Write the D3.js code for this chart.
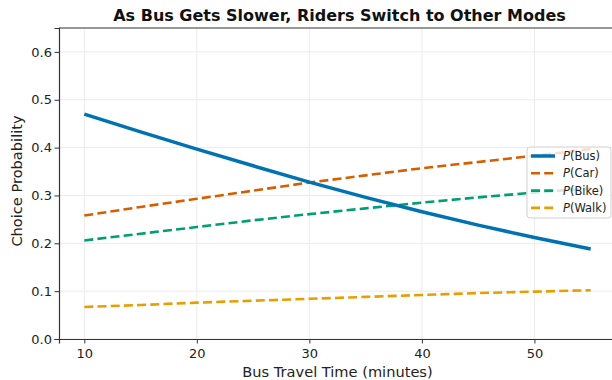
<!DOCTYPE html>
<html><head><meta charset="utf-8">
<script src="https://cdn.jsdelivr.net/npm/d3@7"></script>
<style>
body{margin:0;background:#fff;}
svg{display:block;font-family:"DejaVu Sans",sans-serif;}
</style></head>
<body>
<svg id="chart" width="612" height="380"></svg>
<script>
const busTime = [10, 15, 20, 25, 30, 35, 40, 45, 50, 55];
const pBus  = [0.470, 0.433, 0.397, 0.362, 0.328, 0.296, 0.266, 0.238, 0.212, 0.188];
const pCar  = [0.258, 0.276, 0.293, 0.310, 0.327, 0.342, 0.357, 0.370, 0.383, 0.397];
const pBike = [0.206, 0.220, 0.234, 0.248, 0.261, 0.273, 0.285, 0.296, 0.306, 0.315];
const pWalk = [0.067, 0.071, 0.076, 0.080, 0.084, 0.088, 0.092, 0.096, 0.099, 0.102];
const xTicks = [10, 20, 30, 40, 50];
const yTicks = [0.0, 0.1, 0.2, 0.3, 0.4, 0.5, 0.6];
const seriesNames = ["Bus", "Car", "Bike", "Walk"];
const seriesColors = ["#0072B2", "#D55E00", "#009E73", "#E69F00"];
const seriesValues = [pBus, pCar, pBike, pWalk];
const titleText = "As Bus Gets Slower, Riders Switch to Other Modes";
const xLabel = "Bus Travel Time (minutes)";
const yLabel = "Choice Probability";

const svg = d3.select("#chart");
const L = 59, R = 616, T = 28, B = 339;
const x = d3.scaleLinear().domain([7.75, 57.25]).range([L, R]);
const y = d3.scaleLinear().domain([0, 0.65]).range([B, T]);

// grid
const g = svg.append("g");
g.selectAll(".gx").data(xTicks).enter().append("line")
  .attr("x1", d => x(d)).attr("x2", d => x(d)).attr("y1", T).attr("y2", B)
  .attr("stroke", "#ebebeb").attr("stroke-width", 1);
g.selectAll(".gy").data(yTicks).enter().append("line")
  .attr("x1", L).attr("x2", R).attr("y1", d => y(d)).attr("y2", d => y(d))
  .attr("stroke", "#ebebeb").attr("stroke-width", 1);

// lines
const line = d3.line().x((d, i) => x(busTime[i])).y(d => y(d));
const order = [3, 2, 1, 0];
order.forEach(k => {
  svg.append("path").datum(seriesValues[k])
    .attr("d", line).attr("fill", "none")
    .attr("stroke", seriesColors[k])
    .attr("stroke-width", k === 0 ? 3.5 : 2.6)
    .attr("stroke-dasharray", k === 0 ? null : "9,4.2");
});

// axes
const xAxis = svg.append("g").attr("transform", `translate(0,${B})`)
  .call(d3.axisBottom(x).tickValues(xTicks).tickFormat(d3.format("d")).tickSizeOuter(0).tickSize(4.5));
const yAxis = svg.append("g").attr("transform", `translate(${L},0)`)
  .call(d3.axisLeft(y).tickValues(yTicks).tickFormat(d3.format(".1f")).tickSizeOuter(0).tickSize(4.5));
[xAxis, yAxis].forEach(a => {
  a.select(".domain").attr("stroke", "#333").attr("stroke-width", 1.2);
  a.selectAll(".tick line").attr("stroke", "#333").attr("stroke-width", 1);
  a.selectAll(".tick text").attr("fill", "#222").attr("font-size", 13)
    .attr("font-family", "DejaVu Sans");
});
xAxis.selectAll(".tick text").attr("dy", "0.95em").attr("y", 7);
yAxis.selectAll(".tick text").attr("x", -7);
// top spine
svg.append("line").attr("x1", L).attr("x2", R).attr("y1", T).attr("y2", T)
  .attr("stroke", "#333").attr("stroke-width", 1.2);

// title and labels
svg.append("text").attr("x", 339.5).attr("y", 20.5).attr("text-anchor", "middle")
  .attr("font-size", 16).attr("font-weight", "bold").attr("fill", "#111").text(titleText);
svg.append("text").attr("x", 337.5).attr("y", 376.5).attr("text-anchor", "middle")
  .attr("font-size", 14.6).attr("fill", "#222").text(xLabel);
svg.append("text").attr("transform", `translate(22,181) rotate(-90)`)
  .attr("text-anchor", "middle").attr("font-size", 14.6).attr("fill", "#222").text(yLabel);

// legend
const lg = svg.append("g");
lg.append("rect").attr("x", 527).attr("y", 147).attr("width", 84).attr("height", 71)
  .attr("rx", 3).attr("fill", "#fff").attr("fill-opacity", 0.8)
  .attr("stroke", "#d0d0d0").attr("stroke-width", 1);
seriesNames.forEach((n, i) => {
  const yy = 156 + i * 17.3;
  lg.append("line").attr("x1", 531).attr("x2", 555).attr("y1", yy).attr("y2", yy)
    .attr("stroke", seriesColors[i]).attr("stroke-width", i === 0 ? 3.5 : 2.6)
    .attr("stroke-dasharray", i === 0 ? null : "9,4.2");
  const t = lg.append("text").attr("x", 563).attr("y", yy + 4).attr("font-size", 11.5).attr("fill", "#222");
  t.append("tspan").attr("font-style", "italic").text("P");
  t.append("tspan").text("(" + n + ")");
});
</script>
</body></html>
